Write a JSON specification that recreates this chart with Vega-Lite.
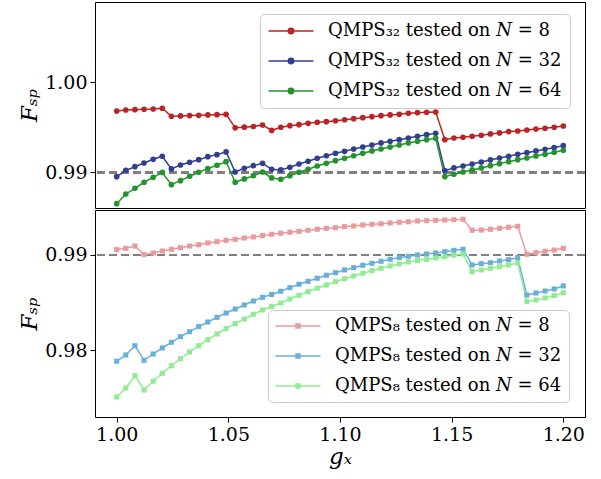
{
"$schema": "https://vega.github.io/schema/vega-lite/v6.json",
"background": "white",
"padding": {"left": 18, "top": 1, "right": 5, "bottom": 5},
"spacing": 0,
"config": {
  "view": {"stroke": "black", "strokeWidth": 1},
  "font": "DejaVu Serif",
  "axis": {"labelFont": "DejaVu Serif", "labelFontSize": 19, "labelColor": "black", "tickColor": "black", "tickSize": 5, "tickWidth": 1, "domain": false, "grid": false, "titleFont": "DejaVu Serif", "titleFontWeight": "normal", "titleColor": "black", "labelPadding": 3},
  "legend": {"labelFont": "DejaVu Serif"}
},
"resolve": {"scale": {"color": "independent"}, "legend": {"color": "independent"}},
"datasets": {
"top": [
{"x":1.0,"F":0.9968,"n":8},{"x":1.00408,"F":0.99692,"n":8},{"x":1.00816,"F":0.99696,"n":8},{"x":1.01224,"F":0.997,"n":8},{"x":1.01633,"F":0.99703,"n":8},{"x":1.02041,"F":0.99711,"n":8},{"x":1.02449,"F":0.99622,"n":8},{"x":1.02857,"F":0.99626,"n":8},{"x":1.03265,"F":0.9963,"n":8},{"x":1.03673,"F":0.99633,"n":8},{"x":1.04082,"F":0.99637,"n":8},{"x":1.0449,"F":0.9964,"n":8},{"x":1.04898,"F":0.99644,"n":8},{"x":1.05306,"F":0.99494,"n":8},{"x":1.05714,"F":0.99501,"n":8},{"x":1.06122,"F":0.99509,"n":8},{"x":1.06531,"F":0.99525,"n":8},{"x":1.06939,"F":0.99465,"n":8},{"x":1.07347,"F":0.995,"n":8},{"x":1.07755,"F":0.99518,"n":8},{"x":1.08163,"F":0.99529,"n":8},{"x":1.08571,"F":0.99544,"n":8},{"x":1.0898,"F":0.99556,"n":8},{"x":1.09388,"F":0.99562,"n":8},{"x":1.09796,"F":0.99573,"n":8},{"x":1.10204,"F":0.99584,"n":8},{"x":1.10612,"F":0.99596,"n":8},{"x":1.1102,"F":0.99607,"n":8},{"x":1.11429,"F":0.99618,"n":8},{"x":1.11837,"F":0.99629,"n":8},{"x":1.12245,"F":0.99637,"n":8},{"x":1.12653,"F":0.99644,"n":8},{"x":1.13061,"F":0.99656,"n":8},{"x":1.13469,"F":0.99662,"n":8},{"x":1.13878,"F":0.99667,"n":8},{"x":1.14286,"F":0.9967,"n":8},{"x":1.14694,"F":0.99362,"n":8},{"x":1.15102,"F":0.99381,"n":8},{"x":1.1551,"F":0.99389,"n":8},{"x":1.15918,"F":0.994,"n":8},{"x":1.16327,"F":0.99411,"n":8},{"x":1.16735,"F":0.99426,"n":8},{"x":1.17143,"F":0.99437,"n":8},{"x":1.17551,"F":0.99452,"n":8},{"x":1.17959,"F":0.99459,"n":8},{"x":1.18367,"F":0.9947,"n":8},{"x":1.18776,"F":0.99481,"n":8},{"x":1.19184,"F":0.99489,"n":8},{"x":1.19592,"F":0.995,"n":8},{"x":1.2,"F":0.99514,"n":8},
{"x":1.0,"F":0.98951,"n":32},{"x":1.00408,"F":0.99022,"n":32},{"x":1.00816,"F":0.99062,"n":32},{"x":1.01224,"F":0.99103,"n":32},{"x":1.01633,"F":0.99144,"n":32},{"x":1.02041,"F":0.99178,"n":32},{"x":1.02449,"F":0.99037,"n":32},{"x":1.02857,"F":0.99081,"n":32},{"x":1.03265,"F":0.99111,"n":32},{"x":1.03673,"F":0.9914,"n":32},{"x":1.04082,"F":0.99173,"n":32},{"x":1.0449,"F":0.99196,"n":32},{"x":1.04898,"F":0.99226,"n":32},{"x":1.05306,"F":0.99003,"n":32},{"x":1.05714,"F":0.99044,"n":32},{"x":1.06122,"F":0.99073,"n":32},{"x":1.06531,"F":0.991,"n":32},{"x":1.06939,"F":0.99033,"n":32},{"x":1.07347,"F":0.99026,"n":32},{"x":1.07755,"F":0.99056,"n":32},{"x":1.08163,"F":0.99092,"n":32},{"x":1.08571,"F":0.99122,"n":32},{"x":1.0898,"F":0.99156,"n":32},{"x":1.09388,"F":0.99184,"n":32},{"x":1.09796,"F":0.99211,"n":32},{"x":1.10204,"F":0.99233,"n":32},{"x":1.10612,"F":0.99259,"n":32},{"x":1.1102,"F":0.99281,"n":32},{"x":1.11429,"F":0.99303,"n":32},{"x":1.11837,"F":0.99326,"n":32},{"x":1.12245,"F":0.99344,"n":32},{"x":1.12653,"F":0.99362,"n":32},{"x":1.13061,"F":0.99381,"n":32},{"x":1.13469,"F":0.994,"n":32},{"x":1.13878,"F":0.99418,"n":32},{"x":1.14286,"F":0.99433,"n":32},{"x":1.14694,"F":0.99018,"n":32},{"x":1.15102,"F":0.99048,"n":32},{"x":1.1551,"F":0.9907,"n":32},{"x":1.15918,"F":0.99092,"n":32},{"x":1.16327,"F":0.99114,"n":32},{"x":1.16735,"F":0.99137,"n":32},{"x":1.17143,"F":0.99159,"n":32},{"x":1.17551,"F":0.99178,"n":32},{"x":1.17959,"F":0.992,"n":32},{"x":1.18367,"F":0.99218,"n":32},{"x":1.18776,"F":0.99237,"n":32},{"x":1.19184,"F":0.99256,"n":32},{"x":1.19592,"F":0.99273,"n":32},{"x":1.2,"F":0.99296,"n":32},
{"x":1.0,"F":0.98651,"n":64},{"x":1.00408,"F":0.98759,"n":64},{"x":1.00816,"F":0.98822,"n":64},{"x":1.01224,"F":0.98889,"n":64},{"x":1.01633,"F":0.98944,"n":64},{"x":1.02041,"F":0.98998,"n":64},{"x":1.02449,"F":0.98862,"n":64},{"x":1.02857,"F":0.98907,"n":64},{"x":1.03265,"F":0.98956,"n":64},{"x":1.03673,"F":0.99,"n":64},{"x":1.04082,"F":0.9904,"n":64},{"x":1.0449,"F":0.99078,"n":64},{"x":1.04898,"F":0.99118,"n":64},{"x":1.05306,"F":0.98889,"n":64},{"x":1.05714,"F":0.98926,"n":64},{"x":1.06122,"F":0.98962,"n":64},{"x":1.06531,"F":0.99003,"n":64},{"x":1.06939,"F":0.98937,"n":64},{"x":1.07347,"F":0.98922,"n":64},{"x":1.07755,"F":0.98962,"n":64},{"x":1.08163,"F":0.99,"n":64},{"x":1.08571,"F":0.99033,"n":64},{"x":1.0898,"F":0.9907,"n":64},{"x":1.09388,"F":0.991,"n":64},{"x":1.09796,"F":0.99129,"n":64},{"x":1.10204,"F":0.99156,"n":64},{"x":1.10612,"F":0.99184,"n":64},{"x":1.1102,"F":0.99211,"n":64},{"x":1.11429,"F":0.99237,"n":64},{"x":1.11837,"F":0.99259,"n":64},{"x":1.12245,"F":0.99281,"n":64},{"x":1.12653,"F":0.99303,"n":64},{"x":1.13061,"F":0.99326,"n":64},{"x":1.13469,"F":0.99344,"n":64},{"x":1.13878,"F":0.99362,"n":64},{"x":1.14286,"F":0.99378,"n":64},{"x":1.14694,"F":0.98951,"n":64},{"x":1.15102,"F":0.98978,"n":64},{"x":1.1551,"F":0.99003,"n":64},{"x":1.15918,"F":0.99026,"n":64},{"x":1.16327,"F":0.99048,"n":64},{"x":1.16735,"F":0.99073,"n":64},{"x":1.17143,"F":0.99096,"n":64},{"x":1.17551,"F":0.99118,"n":64},{"x":1.17959,"F":0.9914,"n":64},{"x":1.18367,"F":0.99159,"n":64},{"x":1.18776,"F":0.99181,"n":64},{"x":1.19184,"F":0.992,"n":64},{"x":1.19592,"F":0.99222,"n":64},{"x":1.2,"F":0.99244,"n":64}
],
"bottom": [
{"x":1.0,"F":0.99056,"n":8},{"x":1.00408,"F":0.9907,"n":8},{"x":1.00816,"F":0.99094,"n":8},{"x":1.01224,"F":0.99003,"n":8},{"x":1.01633,"F":0.99021,"n":8},{"x":1.02041,"F":0.99042,"n":8},{"x":1.02449,"F":0.9906,"n":8},{"x":1.02857,"F":0.99077,"n":8},{"x":1.03265,"F":0.99094,"n":8},{"x":1.03673,"F":0.99108,"n":8},{"x":1.04082,"F":0.99126,"n":8},{"x":1.0449,"F":0.9914,"n":8},{"x":1.04898,"F":0.99154,"n":8},{"x":1.05306,"F":0.99165,"n":8},{"x":1.05714,"F":0.99178,"n":8},{"x":1.06122,"F":0.99189,"n":8},{"x":1.06531,"F":0.99203,"n":8},{"x":1.06939,"F":0.99217,"n":8},{"x":1.07347,"F":0.99228,"n":8},{"x":1.07755,"F":0.99238,"n":8},{"x":1.08163,"F":0.99249,"n":8},{"x":1.08571,"F":0.99259,"n":8},{"x":1.0898,"F":0.9927,"n":8},{"x":1.09388,"F":0.9928,"n":8},{"x":1.09796,"F":0.99286,"n":8},{"x":1.10204,"F":0.99297,"n":8},{"x":1.10612,"F":0.99304,"n":8},{"x":1.1102,"F":0.99315,"n":8},{"x":1.11429,"F":0.99322,"n":8},{"x":1.11837,"F":0.99328,"n":8},{"x":1.12245,"F":0.99336,"n":8},{"x":1.12653,"F":0.99343,"n":8},{"x":1.13061,"F":0.99349,"n":8},{"x":1.13469,"F":0.99357,"n":8},{"x":1.13878,"F":0.9936,"n":8},{"x":1.14286,"F":0.99364,"n":8},{"x":1.14694,"F":0.99367,"n":8},{"x":1.15102,"F":0.9937,"n":8},{"x":1.1551,"F":0.99375,"n":8},{"x":1.15918,"F":0.99259,"n":8},{"x":1.16327,"F":0.99262,"n":8},{"x":1.16735,"F":0.9927,"n":8},{"x":1.17143,"F":0.9928,"n":8},{"x":1.17551,"F":0.99291,"n":8},{"x":1.17959,"F":0.99301,"n":8},{"x":1.18367,"F":0.99007,"n":8},{"x":1.18776,"F":0.99024,"n":8},{"x":1.19184,"F":0.99039,"n":8},{"x":1.19592,"F":0.99052,"n":8},{"x":1.2,"F":0.9907,"n":8},
{"x":1.0,"F":0.97885,"n":32},{"x":1.00408,"F":0.97951,"n":32},{"x":1.00816,"F":0.98048,"n":32},{"x":1.01224,"F":0.97895,"n":32},{"x":1.01633,"F":0.97961,"n":32},{"x":1.02041,"F":0.98024,"n":32},{"x":1.02449,"F":0.98084,"n":32},{"x":1.02857,"F":0.98143,"n":32},{"x":1.03265,"F":0.98195,"n":32},{"x":1.03673,"F":0.98248,"n":32},{"x":1.04082,"F":0.98297,"n":32},{"x":1.0449,"F":0.98346,"n":32},{"x":1.04898,"F":0.98391,"n":32},{"x":1.05306,"F":0.98433,"n":32},{"x":1.05714,"F":0.98475,"n":32},{"x":1.06122,"F":0.98517,"n":32},{"x":1.06531,"F":0.98556,"n":32},{"x":1.06939,"F":0.98586,"n":32},{"x":1.07347,"F":0.98619,"n":32},{"x":1.07755,"F":0.98657,"n":32},{"x":1.08163,"F":0.98693,"n":32},{"x":1.08571,"F":0.98724,"n":32},{"x":1.0898,"F":0.98756,"n":32},{"x":1.09388,"F":0.98787,"n":32},{"x":1.09796,"F":0.98814,"n":32},{"x":1.10204,"F":0.98843,"n":32},{"x":1.10612,"F":0.98867,"n":32},{"x":1.1102,"F":0.98892,"n":32},{"x":1.11429,"F":0.98913,"n":32},{"x":1.11837,"F":0.98934,"n":32},{"x":1.12245,"F":0.98955,"n":32},{"x":1.12653,"F":0.98972,"n":32},{"x":1.13061,"F":0.98986,"n":32},{"x":1.13469,"F":0.99,"n":32},{"x":1.13878,"F":0.9901,"n":32},{"x":1.14286,"F":0.99021,"n":32},{"x":1.14694,"F":0.99035,"n":32},{"x":1.15102,"F":0.99049,"n":32},{"x":1.1551,"F":0.9906,"n":32},{"x":1.15918,"F":0.98895,"n":32},{"x":1.16327,"F":0.98909,"n":32},{"x":1.16735,"F":0.98919,"n":32},{"x":1.17143,"F":0.98937,"n":32},{"x":1.17551,"F":0.98951,"n":32},{"x":1.17959,"F":0.98972,"n":32},{"x":1.18367,"F":0.9858,"n":32},{"x":1.18776,"F":0.98601,"n":32},{"x":1.19184,"F":0.98622,"n":32},{"x":1.19592,"F":0.98643,"n":32},{"x":1.2,"F":0.98675,"n":32},
{"x":1.0,"F":0.9751,"n":64},{"x":1.00408,"F":0.97604,"n":64},{"x":1.00816,"F":0.97733,"n":64},{"x":1.01224,"F":0.97583,"n":64},{"x":1.01633,"F":0.97675,"n":64},{"x":1.02041,"F":0.97759,"n":64},{"x":1.02449,"F":0.97838,"n":64},{"x":1.02857,"F":0.97912,"n":64},{"x":1.03265,"F":0.97982,"n":64},{"x":1.03673,"F":0.98048,"n":64},{"x":1.04082,"F":0.98111,"n":64},{"x":1.0449,"F":0.98171,"n":64},{"x":1.04898,"F":0.98227,"n":64},{"x":1.05306,"F":0.98279,"n":64},{"x":1.05714,"F":0.98328,"n":64},{"x":1.06122,"F":0.98378,"n":64},{"x":1.06531,"F":0.98423,"n":64},{"x":1.06939,"F":0.9846,"n":64},{"x":1.07347,"F":0.98496,"n":64},{"x":1.07755,"F":0.98538,"n":64},{"x":1.08163,"F":0.98577,"n":64},{"x":1.08571,"F":0.98615,"n":64},{"x":1.0898,"F":0.98651,"n":64},{"x":1.09388,"F":0.98685,"n":64},{"x":1.09796,"F":0.9872,"n":64},{"x":1.10204,"F":0.98751,"n":64},{"x":1.10612,"F":0.9878,"n":64},{"x":1.1102,"F":0.98808,"n":64},{"x":1.11429,"F":0.98835,"n":64},{"x":1.11837,"F":0.9886,"n":64},{"x":1.12245,"F":0.98885,"n":64},{"x":1.12653,"F":0.98906,"n":64},{"x":1.13061,"F":0.98927,"n":64},{"x":1.13469,"F":0.98942,"n":64},{"x":1.13878,"F":0.98955,"n":64},{"x":1.14286,"F":0.98969,"n":64},{"x":1.14694,"F":0.98982,"n":64},{"x":1.15102,"F":0.98997,"n":64},{"x":1.1551,"F":0.9901,"n":64},{"x":1.15918,"F":0.98825,"n":64},{"x":1.16327,"F":0.98843,"n":64},{"x":1.16735,"F":0.9886,"n":64},{"x":1.17143,"F":0.98877,"n":64},{"x":1.17551,"F":0.98895,"n":64},{"x":1.17959,"F":0.98916,"n":64},{"x":1.18367,"F":0.9851,"n":64},{"x":1.18776,"F":0.98528,"n":64},{"x":1.19184,"F":0.98549,"n":64},{"x":1.19592,"F":0.98573,"n":64},{"x":1.2,"F":0.98604,"n":64}
]
},
"vconcat": [
{
  "width": 490, "height": 206,
  "data": {"name": "top"},
  "layer": [
    {"mark": {"type": "rule", "color": "#808080", "strokeWidth": 2, "strokeDash": [8, 4]},
     "encoding": {"y": {"datum": 0.99, "type": "quantitative"}}},
    {"mark": {"type": "line", "strokeWidth": 1.5, "point": {"filled": true, "size": 32}},
     "encoding": {
       "x": {"field": "x", "type": "quantitative", "scale": {"domain": [0.99028, 1.20972], "nice": false, "zero": false}, "axis": null},
       "y": {"field": "F", "type": "quantitative", "scale": {"domain": [0.98603, 1.00892], "nice": false, "zero": false},
             "axis": {"values": [0.99, 1.0], "format": ".2f", "title": "Fₛₚ", "titleFontSize": 23, "titleFontStyle": "italic", "titlePadding": 3}},
       "color": {"field": "n", "type": "nominal", "scale": {"domain": [8, 32, 64], "range": ["#bb2326", "#323e92", "#23942b"]},
         "legend": {"orient": "none", "legendX": 165, "legendY": 12, "title": null,
           "symbolType": "M-3,0H3M-0.36,0A0.36,0.36,0,1,0,0.36,0A0.36,0.36,0,1,0,-0.36,0M-0.22,0A0.22,0.22,0,1,0,0.22,0A0.22,0.22,0,1,0,-0.22,0M-0.08,0A0.08,0.08,0,1,0,0.08,0A0.08,0.08,0,1,0,-0.08,0",
           "symbolSize": 225, "symbolStrokeWidth": 1.5, "symbolOffset": 14,
           "labelOffset": 28, "labelFontSize": 18, "labelColor": "black", "labelLimit": 400,
           "labelExpr": "'QMPS₃₂ tested on 𝑁 = ' + datum.label",
           "padding": 8, "rowPadding": 12,
           "fillColor": "rgba(255,255,255,0.8)", "strokeColor": "#cccccc", "cornerRadius": 4}}
     }}
  ]
},
{
  "width": 490, "height": 207,
  "data": {"name": "bottom"},
  "layer": [
    {"mark": {"type": "rule", "color": "#808080", "strokeWidth": 2, "strokeDash": [8, 4]},
     "encoding": {"y": {"datum": 0.99, "type": "quantitative"}}},
    {"mark": {"type": "line", "strokeWidth": 1.5, "point": {"filled": true, "shape": "square", "size": 26}},
     "encoding": {
       "x": {"field": "x", "type": "quantitative", "scale": {"domain": [0.99028, 1.20972], "nice": false, "zero": false},
             "axis": {"values": [1.0, 1.05, 1.1, 1.15, 1.2], "format": ".2f", "title": "gₓ", "titleFontSize": 23, "titleFontStyle": "italic", "titlePadding": 1}},
       "y": {"field": "F", "type": "quantitative", "scale": {"domain": [0.973, 0.99472], "nice": false, "zero": false},
             "axis": {"values": [0.98, 0.99], "format": ".2f", "title": "Fₛₚ", "titleFontSize": 23, "titleFontStyle": "italic", "titlePadding": 3}},
       "color": {"field": "n", "type": "nominal", "scale": {"domain": [8, 32, 64], "range": ["#ea999d", "#6aafd9", "#90ec90"]},
         "legend": {"orient": "none", "legendX": 173, "legendY": 100, "title": null,
           "symbolType": "M-3,0H3M-0.27,-0.27H0.27V0.27H-0.27ZM-0.1,-0.1H0.1V0.1H-0.1Z",
           "symbolSize": 225, "symbolStrokeWidth": 1.5, "symbolOffset": 14,
           "labelOffset": 28, "labelFontSize": 18, "labelColor": "black", "labelLimit": 400,
           "labelExpr": "'QMPS₈ tested on 𝑁 = ' + datum.label",
           "padding": 7, "rowPadding": 12,
           "fillColor": "rgba(255,255,255,0.8)", "strokeColor": "#cccccc", "cornerRadius": 4}}
     }}
  ]
}
]
}
